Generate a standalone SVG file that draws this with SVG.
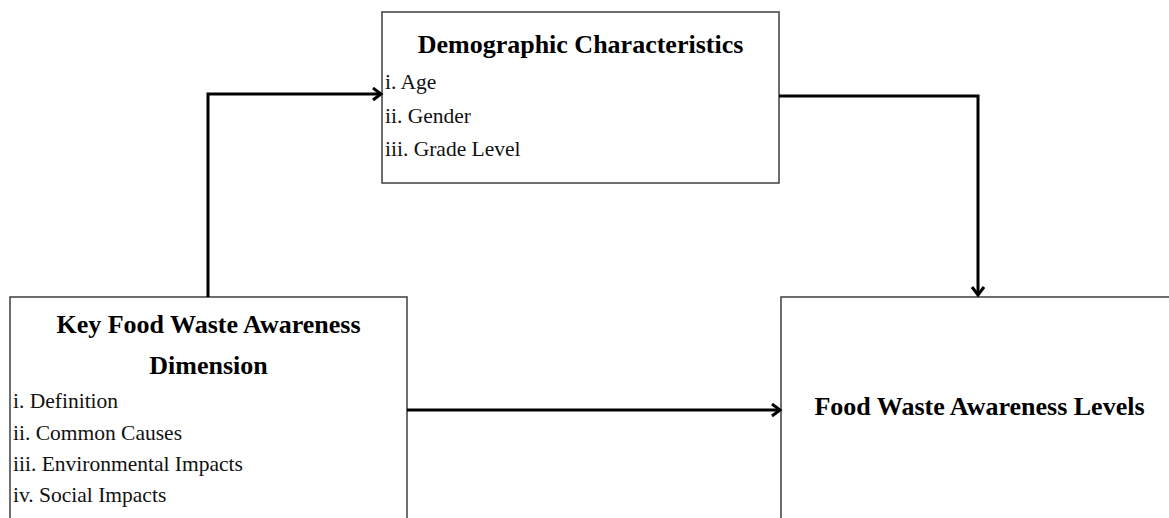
<svg xmlns="http://www.w3.org/2000/svg" width="1169" height="518" viewBox="0 0 1169 518">
<style>
.box{fill:#fff;stroke:#4a4a4a;stroke-width:1.6}
.title{font-family:"Liberation Serif",serif;font-weight:bold;font-size:26px;fill:#000;text-anchor:middle}
.item{font-family:"Liberation Serif",serif;font-size:21.5px;fill:#111}
.conn{fill:none;stroke:#000;stroke-width:3}
</style>
<defs>
<marker id="arr" markerUnits="userSpaceOnUse" markerWidth="14" markerHeight="16" refX="10" refY="7" orient="auto">
<path d="M2,1 L10,7 L2,13" fill="none" stroke="#000" stroke-width="3"/>
</marker>
</defs>
<rect width="1169" height="518" fill="#fff"/>
<g id="demographic">
<rect class="box" x="382" y="12" width="397" height="171"/>
<text class="title" x="580.5" y="53">Demographic Characteristics</text>
<text class="item" x="385" y="89">i. Age</text>
<text class="item" x="385" y="123">ii. Gender</text>
<text class="item" x="385" y="156">iii. Grade Level</text>
</g>
<g id="key-dimension">
<rect class="box" x="10" y="297" width="397" height="240"/>
<text class="title" x="208.5" y="333">Key Food Waste Awareness</text>
<text class="title" x="208.5" y="374">Dimension</text>
<text class="item" x="13" y="408">i. Definition</text>
<text class="item" x="13" y="440">ii. Common Causes</text>
<text class="item" x="13" y="471">iii. Environmental Impacts</text>
<text class="item" x="13" y="502">iv. Social Impacts</text>
</g>
<g id="awareness-levels">
<rect class="box" x="781" y="297" width="420" height="240"/>
<text class="title" x="979.5" y="415">Food Waste Awareness Levels</text>
</g>
<g id="connectors">
<path class="conn" d="M208,297 V94 H381" marker-end="url(#arr)"/>
<path class="conn" d="M779,96 H978 V295" marker-end="url(#arr)"/>
<path class="conn" d="M407,410 H780" marker-end="url(#arr)"/>
</g>
</svg>
